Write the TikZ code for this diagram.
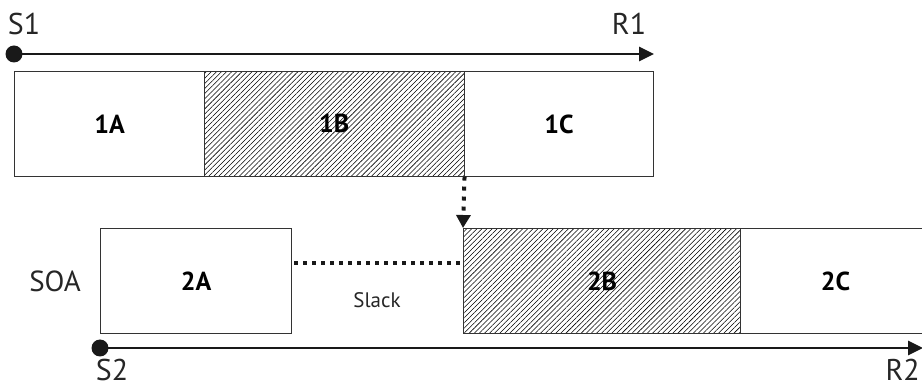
\documentclass[tikz,border=0pt]{standalone}
\usepackage{fontspec}
\setmainfont{PT Sans}
\usetikzlibrary{arrows.meta,patterns.meta}
\begin{document}
\begin{tikzpicture}[x=1pt,y=-1pt,
  box/.style={draw=black!80, line width=1.1pt, anchor=north west, minimum height=105pt, inner sep=0pt, font=\bfseries\fontsize{26}{28}\selectfont},
  hatched/.style={pattern={Lines[angle=45,distance=3.6pt,line width=0.55pt]}},
  timeline/.style={line width=2.6pt, draw=black!90, -{Triangle[length=15pt,width=14pt]}},
  dotline/.style={line width=4pt, draw=black!90, dash pattern=on 4pt off 5pt},
  startdot/.style={circle, fill=black!90, minimum size=17pt, inner sep=0pt},
  lbl/.style={font=\fontsize{30}{32}\selectfont, text=black!85, inner sep=0pt, anchor=base}
]
\useasboundingbox (0,0) rectangle (922,390);
% top row
\node[startdot] (s1) at (14,54) {};
\coordinate (r1) at (654,54);
\draw[timeline] (s1.center) -- (r1);
\node[lbl] (s1l) at (24,35) {S1};
\node[lbl] (r1l) at (629,35) {R1};
\node[box, minimum width=190pt] (1A) at (14,71) {1A};
\node[box, hatched, minimum width=260pt] (1B) at (204,71) {1B};
\node[box, minimum width=189pt] (1C) at (464,71) {1C};
% bottom row
\node[box, minimum width=191pt] (2A) at (100,228) {2A};
\node[box, hatched, minimum width=277pt] (2B) at (463,228) {2B};
\node[box, minimum width=190pt] (2C) at (740,228) {2C};
\node[startdot] (s2) at (100,348) {};
\coordinate (r2) at (923,348);
\draw[timeline] (s2.center) -- (r2);
\node[lbl] (s2l) at (112,381) {S2};
\node[lbl, anchor=base east] (r2l) at (920,381) {R2};
\node[font=\fontsize{29}{32}\selectfont, text=black!85] (soa) at (55,281) {SOA};
\node[font=\fontsize{21}{24}\selectfont, text=black!85] (slack) at (377,300) {Slack};
% dotted connectors
\draw[dotline] ([xshift=2pt,yshift=18pt]2A.east) -- ([yshift=18pt]2B.west);
\draw[dotline, -{Triangle[length=13pt,width=14pt]}, dash pattern=on 4pt off 6pt] (1B.south east) -- (2B.north west);
\end{tikzpicture}
\end{document}
